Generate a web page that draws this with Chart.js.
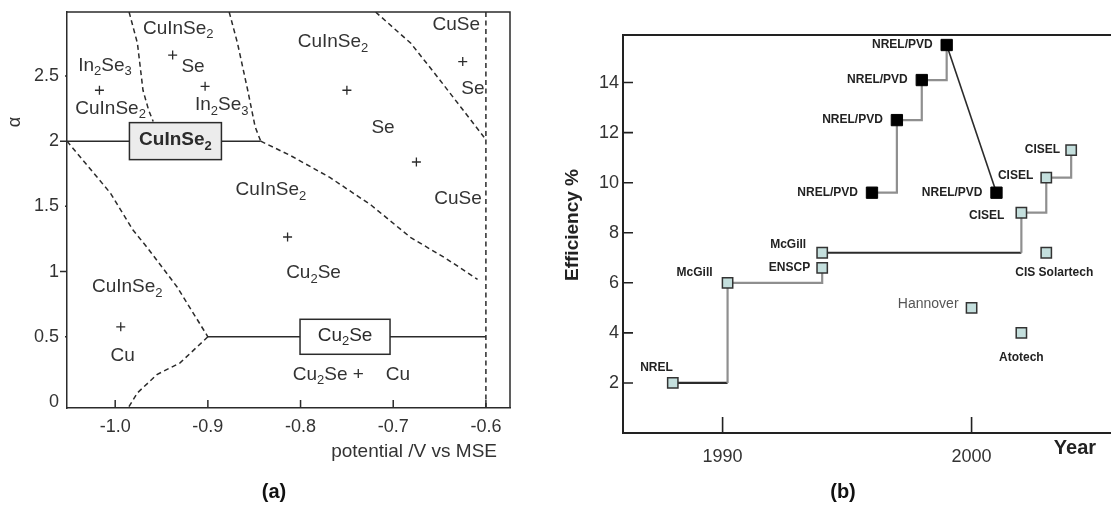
<!DOCTYPE html>
<html>
<head>
<meta charset="utf-8">
<script src="https://cdn.jsdelivr.net/npm/chart.js@4.4.0/dist/chart.umd.min.js"></script>
<style>
  body { margin: 0; background: #fff; width: 1111px; height: 509px; overflow: hidden; position: relative; }
  #wrap-a { position: absolute; left: 0; top: 0; width: 555px; height: 509px; }
  #wrap-b { position: absolute; left: 555px; top: 0; width: 556px; height: 509px; }
</style>
</head>
<body>
<div id="wrap-a"><canvas id="phase-chart"></canvas></div>
<div id="wrap-b"><canvas id="eff-chart"></canvas></div>
<script>
const FONT = "'Liberation Sans', Arial, Helvetica, sans-serif";
const INK = '#2b2b2b';
const GREY = '#8f8f8f';

// ---------- (a) phase diagram: potential (V vs MSE) vs alpha ----------
const phaseXTicks = [-1.0, -0.9, -0.8, -0.7, -0.6];
const phaseXTickLabels = ['-1.0', '-0.9', '-0.8', '-0.7', '-0.6'];
const phaseYTicks = [0, 0.5, 1, 1.5, 2, 2.5];
const phaseYTickLabels = ['0', '0.5', '1', '1.5', '2', '2.5'];

// dashed phase boundaries
const bndTopLeftX = [-0.985, -0.976, -0.970, -0.964, -0.959];
const bndTopLeftY = [2.99, 2.75, 2.39, 2.24, 2.15];
const bndTopMidX = [-0.877, -0.868, -0.857, -0.849, -0.843];
const bndTopMidY = [2.99, 2.75, 2.39, 2.11, 2.0];
const bndMidX = [-0.843, -0.811, -0.768, -0.724, -0.681, -0.643, -0.609];
const bndMidY = [2.0, 1.89, 1.72, 1.51, 1.26, 1.10, 0.94];
const bndTopRightX = [-0.719, -0.681, -0.652, -0.627, -0.602];
const bndTopRightY = [2.99, 2.75, 2.49, 2.26, 2.03];
const bndRightX = [-0.6, -0.6];
const bndRightY = [-0.046, 2.99];
const bndLowLeftX = [-1.052, -1.005, -0.981, -0.965, -0.933, -0.9];
const bndLowLeftY = [2.0, 1.60, 1.32, 1.18, 0.88, 0.5];
const bndBottomX = [-0.9, -0.930, -0.955, -0.976, -0.986];
const bndBottomY = [0.5, 0.30, 0.21, 0.07, -0.046];

// solid single phase lines
const lineCisX = [-1.052, -0.843];
const lineCisY = [2, 2];
const lineCu2SeX = [-0.9, -0.6];
const lineCu2SeY = [0.5, 0.5];

// measured points (+)
const crossX = [-0.938, -0.903, -1.017, -0.750, -0.675, -0.625, -0.814, -0.994];
const crossY = [2.66, 2.42, 2.39, 2.39, 1.84, 2.61, 1.265, 0.576];

// region labels
const regionText = ['CuInSe₂', 'Se', 'In₂Se₃', 'In₂Se₃', 'CuInSe₂', 'CuInSe₂', 'Se', 'CuSe', 'Se', 'CuSe',
  'CuInSe₂', 'Cu₂Se', 'CuInSe₂', 'Cu', 'Cu₂Se +', 'Cu'];
const regionX = [-0.932, -0.916, -0.885, -1.011, -1.005, -0.765, -0.711, -0.632, -0.614, -0.630,
  -0.832, -0.786, -0.987, -0.992, -0.770, -0.695];
const regionY = [2.865, 2.567, 2.276, 2.58, 2.25, 2.76, 2.10, 2.89, 2.40, 1.56,
  1.625, 0.99, 0.88, 0.354, 0.21, 0.21];

// boxed single phases
const boxText = ['CuInSe₂', 'Cu₂Se'];
const boxX = [-0.935, -0.752];
const boxY = [2, 0.5];

// ---------- (b) efficiency vs year ----------
const yearTicks = [1990, 2000];
const yearTickLabels = ['1990', '2000'];
const effTicks = [2, 4, 6, 8, 10, 12, 14];
const effTickLabels = ['2', '4', '6', '8', '10', '12', '14'];

const pvdYears = [1996, 1997, 1998, 1999, 2001];
const pvdEff = [9.6, 12.5, 14.1, 15.5, 9.6];

const labNames = ['NREL', 'McGill', 'McGill', 'ENSCP', 'CISEL', 'CISEL', 'CISEL', 'CIS Solartech', 'Hannover', 'Atotech'];
const labYears = [1988, 1990.2, 1994, 1994, 2002, 2003, 2004, 2003, 2000, 2002];
const labEff = [2.0, 6.0, 7.2, 6.6, 8.8, 10.2, 11.3, 7.2, 5.0, 4.0];

// step links between lab points (index from -> index to)
const labStepFrom = [0, 1, 2, 4, 5];
const labStepTo = [1, 3, 4, 5, 6];
const pvdStepFrom = [0, 1, 2];
const pvdStepTo = [1, 2, 3];
const pvdDropFrom = 3;
const pvdDropTo = 4;

// styles
const labStepHColor = [INK, GREY, INK, GREY, GREY];
const labStepVColor = [GREY, GREY, GREY, GREY, GREY];
const labLabelDx = [0, -15, -16, -12, -17, -13, -11, 8, -13, 0];
const labLabelDy = [-15, -10, -8, 0, 3, -2, 0, 20, -4, 25];
const labLabelAlign = ['right', 'right', 'right', 'right', 'right', 'right', 'right', 'center', 'right', 'center'];

const pts = (xs, ys) => xs.map((x, i) => ({ x: x, y: ys[i] }));

// draws text with unicode subscript digits as small lowered digits
function drawChem(ctx, text, x, y, size, bold, align, color) {
  const subs = '₀₁₂₃₄₅₆₇₈₉';
  const parts = [];
  for (const ch of text) {
    const k = subs.indexOf(ch);
    parts.push(k >= 0 ? { t: String(k), sub: true } : { t: ch, sub: false });
  }
  const w = bold ? 'bold ' : '';
  const mainFont = w + size + 'px ' + FONT;
  const subFont = w + Math.round(size * 0.68) + 'px ' + FONT;
  let total = 0;
  parts.forEach(p => {
    ctx.font = p.sub ? subFont : mainFont;
    p.w = ctx.measureText(p.t).width;
    total += p.w;
  });
  let cx = align === 'center' ? x - total / 2 : align === 'right' ? x - total : x;
  ctx.fillStyle = color;
  ctx.textAlign = 'left';
  ctx.textBaseline = 'middle';
  parts.forEach(p => {
    ctx.font = p.sub ? subFont : mainFont;
    ctx.fillText(p.t, cx, p.sub ? y + size * 0.32 : y);
    cx += p.w;
  });
}

function dashed(data) {
  return { data: data, showLine: true, borderColor: INK, borderWidth: 1.5, borderDash: [5, 3.5], pointRadius: 0, order: 2 };
}
function solid(data) {
  return { data: data, showLine: true, borderColor: INK, borderWidth: 1.5, pointRadius: 0, order: 2 };
}
// keep the plot area where the layout padding puts it
function noPad(s) {
  s.paddingLeft = 0; s.paddingRight = 0; s.paddingTop = 0; s.paddingBottom = 0;
}

const phaseDecor = {
  id: 'phaseDecor',
  afterDatasetsDraw(chart) {
    const { ctx, chartArea: a, scales: { x, y } } = chart;
    ctx.save();
    ctx.strokeStyle = INK;
    ctx.lineWidth = 1.5;
    ctx.beginPath();
    ctx.moveTo(a.left, a.top);
    ctx.lineTo(a.right, a.top);
    ctx.lineTo(a.right, a.bottom);
    ctx.stroke();
    ctx.beginPath();
    phaseXTicks.forEach(v => {
      const px = x.getPixelForValue(v);
      ctx.moveTo(px, a.bottom);
      ctx.lineTo(px, a.bottom - 8);
    });
    phaseYTicks.forEach(v => {
      if (v === 0) return;
      const py = y.getPixelForValue(v);
      ctx.moveTo(a.left - (Number.isInteger(v) ? 7 : 2), py);
      ctx.lineTo(a.left, py);
    });
    ctx.stroke();

    const boxW = [92, 90], boxH = [37, 35], boxFill = ['#ececec', '#ffffff'], boxBold = [true, false];
    boxText.forEach((t, i) => {
      const cx = x.getPixelForValue(boxX[i]), cy = y.getPixelForValue(boxY[i]);
      ctx.fillStyle = boxFill[i];
      ctx.fillRect(cx - boxW[i] / 2, cy - boxH[i] / 2, boxW[i], boxH[i]);
      ctx.strokeRect(cx - boxW[i] / 2, cy - boxH[i] / 2, boxW[i], boxH[i]);
      drawChem(ctx, t, cx, cy - 1, 19, boxBold[i], 'center', INK);
    });

    regionText.forEach((t, i) => {
      drawChem(ctx, t, x.getPixelForValue(regionX[i]), y.getPixelForValue(regionY[i]), 19, false, 'center', '#333');
    });

    // axis titles and panel tag
    ctx.fillStyle = '#333';
    ctx.font = '19px ' + FONT;
    ctx.textAlign = 'right';
    ctx.textBaseline = 'middle';
    ctx.fillText('potential /V vs MSE', 497, 452);
    ctx.save();
    ctx.translate(15, 122);
    ctx.rotate(-Math.PI / 2);
    ctx.textAlign = 'center';
    ctx.font = '18px ' + FONT;
    ctx.fillText('α', 0, 0);
    ctx.restore();
    ctx.fillStyle = '#111';
    ctx.font = 'bold 20px ' + FONT;
    ctx.textAlign = 'center';
    ctx.fillText('(a)', 274, 492);
    ctx.restore();
  }
};

new Chart(document.getElementById('phase-chart').getContext('2d'), {
  type: 'scatter',
  data: {
    datasets: [
      { data: pts(crossX, crossY), pointStyle: 'cross', pointRadius: 4.5, borderColor: INK, borderWidth: 1.3, order: 0 },
      solid(pts(lineCisX, lineCisY)),
      solid(pts(lineCu2SeX, lineCu2SeY)),
      dashed(pts(bndTopLeftX, bndTopLeftY)),
      dashed(pts(bndTopMidX, bndTopMidY)),
      dashed(pts(bndMidX, bndMidY)),
      dashed(pts(bndTopRightX, bndTopRightY)),
      dashed(pts(bndRightX, bndRightY)),
      dashed(pts(bndLowLeftX, bndLowLeftY)),
      dashed(pts(bndBottomX, bndBottomY))
    ]
  },
  options: {
    responsive: true,
    maintainAspectRatio: false,
    animation: false,
    layout: { autoPadding: false, padding: { top: 12, right: 45, left: 0, bottom: 0 } },
    plugins: { legend: { display: false }, tooltip: { enabled: false } },
    scales: {
      x: {
        type: 'linear', min: -1.052, max: -0.574,
        afterFit: s => { s.height = 101; noPad(s); },
        afterBuildTicks: s => { s.ticks = phaseXTicks.map(v => ({ value: v })); },
        grid: { display: false, drawTicks: false },
        border: { display: true, color: INK, width: 1.5 },
        ticks: { padding: 8, color: '#333', font: { family: FONT, size: 18 }, maxRotation: 0, callback: (v, i) => phaseXTickLabels[i] }
      },
      y: {
        type: 'linear', min: -0.046, max: 2.99,
        afterFit: s => { s.width = 67; noPad(s); },
        afterBuildTicks: s => { s.ticks = phaseYTicks.map(v => ({ value: v })); },
        grid: { display: false, drawTicks: false },
        border: { display: true, color: INK, width: 1.5 },
        ticks: { padding: 8, color: '#333', font: { family: FONT, size: 18 }, callback: (v, i) => phaseYTickLabels[i] }
      }
    }
  },
  plugins: [phaseDecor]
});

// ---------- (b) ----------
function stepLine(a, b, hColor, vColor) {
  return {
    data: [a, { x: b.x, y: a.y }, b],
    showLine: true, pointRadius: 0, borderWidth: 2.2, order: 2,
    segment: { borderColor: c => (c.p0DataIndex === 0 ? hColor : vColor) }
  };
}

const labPts = pts(labYears, labEff);
const pvdPts = pts(pvdYears, pvdEff);
const linkSets = [];
labStepFrom.forEach((f, i) => linkSets.push(stepLine(labPts[f], labPts[labStepTo[i]], labStepHColor[i], labStepVColor[i])));
pvdStepFrom.forEach((f, i) => linkSets.push(stepLine(pvdPts[f], pvdPts[pvdStepTo[i]], GREY, GREY)));
linkSets.push({ data: [pvdPts[pvdDropFrom], pvdPts[pvdDropTo]], showLine: true, pointRadius: 0, borderColor: INK, borderWidth: 1.6, order: 2 });

const effDecor = {
  id: 'effDecor',
  afterDatasetsDraw(chart) {
    const { ctx, chartArea: a, scales: { x, y } } = chart;
    ctx.save();
    ctx.strokeStyle = '#222';
    ctx.lineWidth = 2;
    ctx.beginPath();
    ctx.moveTo(a.left, a.top);
    ctx.lineTo(a.right, a.top);
    ctx.stroke();
    ctx.lineWidth = 1.6;
    ctx.beginPath();
    effTicks.forEach(v => {
      const py = y.getPixelForValue(v);
      ctx.moveTo(a.left, py);
      ctx.lineTo(a.left + 10, py);
    });
    yearTicks.forEach(v => {
      const px = x.getPixelForValue(v);
      ctx.moveTo(px, a.bottom);
      ctx.lineTo(px, a.bottom - 16);
    });
    ctx.stroke();

    pvdPts.forEach(p => {
      drawChem(ctx, 'NREL/PVD', x.getPixelForValue(p.x) - 14, y.getPixelForValue(p.y), 12, true, 'right', '#222');
    });
    labPts.forEach((p, i) => {
      const hann = labNames[i] === 'Hannover';
      drawChem(ctx, labNames[i], x.getPixelForValue(p.x) + labLabelDx[i], y.getPixelForValue(p.y) + labLabelDy[i],
        hann ? 14 : 12, !hann, labLabelAlign[i], hann ? '#555' : '#222');
    });

    ctx.fillStyle = '#222';
    ctx.textAlign = 'center';
    ctx.textBaseline = 'middle';
    ctx.font = 'bold 20px ' + FONT;
    ctx.fillText('Year', 520, 448);
    ctx.save();
    ctx.translate(18, 225);
    ctx.rotate(-Math.PI / 2);
    ctx.font = 'bold 19px ' + FONT;
    ctx.fillText('Efficiency %', 0, 0);
    ctx.restore();
    ctx.fillStyle = '#111';
    ctx.font = 'bold 20px ' + FONT;
    ctx.fillText('(b)', 288, 492);
    ctx.restore();
  }
};

new Chart(document.getElementById('eff-chart').getContext('2d'), {
  type: 'scatter',
  data: {
    datasets: [
      { data: labPts, pointStyle: 'rect', pointRadius: 7.3, backgroundColor: '#c4dfdd', borderColor: '#333', borderWidth: 1.5, order: 0 },
      { data: pvdPts, pointStyle: 'rect', pointRadius: 8, backgroundColor: '#000', borderColor: '#000', borderWidth: 1, order: 0 },
      ...linkSets
    ]
  },
  options: {
    responsive: true,
    maintainAspectRatio: false,
    animation: false,
    layout: { autoPadding: false, padding: { top: 35, right: 0, left: 0, bottom: 0 } },
    plugins: { legend: { display: false }, tooltip: { enabled: false } },
    scales: {
      x: {
        type: 'linear', min: 1986, max: 2005.6,
        afterFit: s => { s.height = 76; noPad(s); },
        afterBuildTicks: s => { s.ticks = yearTicks.map(v => ({ value: v })); },
        grid: { display: false, drawTicks: false },
        border: { display: true, color: '#222', width: 2 },
        ticks: { padding: 13, color: '#333', font: { family: FONT, size: 18 }, maxRotation: 0, callback: (v, i) => yearTickLabels[i] }
      },
      y: {
        type: 'linear', min: 0, max: 15.9,
        afterFit: s => { s.width = 68; noPad(s); },
        afterBuildTicks: s => { s.ticks = effTicks.map(v => ({ value: v })); },
        grid: { display: false, drawTicks: false },
        border: { display: true, color: '#222', width: 2 },
        ticks: { padding: 4, color: '#333', font: { family: FONT, size: 18 }, callback: (v, i) => effTickLabels[i] }
      }
    }
  },
  plugins: [effDecor]
});
</script>
</body>
</html>
